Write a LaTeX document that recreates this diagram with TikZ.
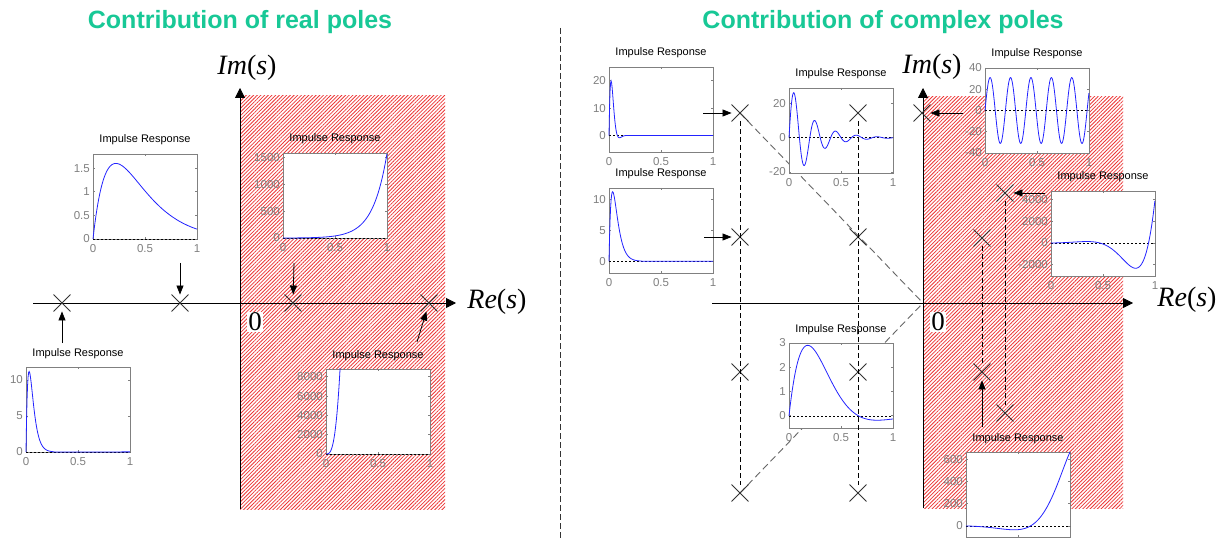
\documentclass[tikz,border=0pt]{standalone}
\usepackage{fontspec}
\setmainfont{Liberation Sans}
\newfontfamily\timesfont{Liberation Serif}
\usetikzlibrary{arrows.meta,shapes.misc,patterns.meta}

\definecolor{titlegreen}{RGB}{24,200,150}
\definecolor{hatchred}{RGB}{238,55,55}
\definecolor{respblue}{RGB}{35,35,255}

\newif\ifirxticks \irxtickstrue
% impulse response box: name, top-left corner, ymin, ymax, t max, h(t) in \x, y ticks
\newcommand{\irplot}[7]{%
  \begin{scope}[shift={#2}]
    \fill[white] (0,0) rectangle (104,85);
    \node[irtitle, anchor=base] (#1) at (52,-11) {Impulse Response};
    \draw[irframe] (0,0) rectangle (104,85);
    \foreach \tx [count=\i] in {0,0.5,1} {
      \draw[irframe] (104*\tx,0) -- ++(0,2) (104*\tx,85) -- ++(0,-2);
      \ifirxticks\node[irtick, anchor=north] (#1x\i) at (104*\tx,89) {\tx};\fi
    }
    \foreach \v [count=\i] in {#7} {
      \draw[irframe] (0,{85*(((#4)-(\v))/((#4)-(#3)))}) -- ++(2,0)
                     (104,{85*(((#4)-(\v))/((#4)-(#3)))}) -- ++(-2,0);
      \node[irtick, anchor=east] (#1y\i) at (-2,{85*(((#4)-(\v))/((#4)-(#3)))}) {\v};
    }
    \draw[irzero] (0,{85*((#4)/((#4)-(#3)))}) -- ++(104,0);
    \begin{scope}
      \clip (-1,-1) rectangle (105,86);
      \draw[irresp] plot[domain=0:#5, samples=200] ({104*\x},{85*(((#4)-(#6))/((#4)-(#3)))});
    \end{scope}
  \end{scope}}

\begin{document}
\begin{tikzpicture}[
  x=1pt, y=-1pt,
  pole/.style={draw=black!80, cross out, minimum size=16pt, inner sep=0pt, line width=0.9pt},
  arrow/.style={-{Triangle[length=9pt,width=7pt]}, line width=0.8pt},
  axis/.style={-{Triangle[length=10pt,width=10pt]}, line width=0.8pt},
  guide/.style={dash pattern=on 5pt off 3pt, line width=0.8pt},
  diag/.style={dash pattern=on 7pt off 4pt, line width=0.9pt, draw=black!60},
  unstable/.style={pattern={Lines[angle=45,distance=2.6pt,line width=0.8pt]}, pattern color=hatchred},
  paneltitle/.style={font=\fontsize{25}{28}\selectfont\bfseries, text=titlegreen},
  axlabel/.style={font=\fontsize{28}{30}\selectfont\timesfont},
  origin/.style={fill=white, inner sep=1pt, font=\fontsize{27}{29}\selectfont\timesfont},
  irtitle/.style={font=\fontsize{11}{13}\selectfont, inner sep=0pt},
  irtick/.style={font=\fontsize{11.5}{13}\selectfont, text=black!50, inner sep=1pt},
  irframe/.style={draw=black!50, line width=0.8pt},
  irzero/.style={dash pattern=on 2pt off 2pt, line width=0.6pt},
  irresp/.style={draw=respblue, line width=0.8pt}
]
  \useasboundingbox[fill=white] (0,0) rectangle (1219,540);

  % titles
  \node[paneltitle] (realtitle) at (240,22) {Contribution of real poles};
  \node[paneltitle] (cplxtitle) at (883,22) {Contribution of complex poles};
  \draw[dash pattern=on 6pt off 3pt, line width=0.8pt, black!80] (560,28) -- (560,540);

  % right half planes
  \fill[unstable] (240,96) rectangle (445,509);
  \fill[unstable] (923,97) rectangle (1123,508);

  % --- real poles ---
  \coordinate (lre0) at (33,303);
  \coordinate (lre1) at (456,303);
  \coordinate (lim0) at (240,509);
  \coordinate (lim1) at (240,88);
  \draw[axis] (lre0) -- (lre1);
  \draw[axis] (lim0) -- (lim1);
  \node[axlabel] (lrelabel) at (497,302) {\textit{Re}(\textit{s})};
  \node[axlabel] (limlabel) at (247,68) {\textit{Im}(\textit{s})};
  \node[origin] (lzero) at (255,322) {0};

  \node[pole] (lfast) at (62,303) {};
  \node[pole] (lslow) at (180,303) {};
  \node[pole] (lunslow) at (293,303) {};
  \node[pole] (lunfast) at (429,303) {};

  \irplot{lslowir}{(93,154)}{0}{1.8}{1}{19.77*\x*exp(-\x/0.22)}{0,0.5,1,1.5}
  \irplot{lunslowir}{(283,153)}{0}{1580}{1}{exp(7.36*\x)-1}{0,500,1000,1500}
  \irplot{lfastir}{(26,367)}{0}{11.8}{1}{1013*\x*exp(-\x/0.03)}{0,5,10}
  \irplot{lunfastir}{(326,369)}{0}{8800}{0.14}{8800*(\x/0.135)*(\x/0.135)*(\x/0.135)}{0,2000,4000,6000,8000}

  \coordinate (lslowin) at (180,263);
  \coordinate (lunslowin) at (294,263);
  \coordinate (lfastin) at (62,343);
  \coordinate (lunfastin) at (417,342);
  \draw[arrow] (lslowin) -- (lslow);
  \draw[arrow] (lunslowin) -- (lunslow);
  \draw[arrow] (lfastin) -- (lfast);
  \draw[arrow] (lunfastin) -- (lunfast);

  % --- complex poles ---
  \coordinate (rre0) at (712,303);
  \coordinate (rre1) at (1133,303);
  \coordinate (rim0) at (923,508);
  \coordinate (rim1) at (923,88);
  \coordinate (rorigin) at (923,303);
  \draw[axis] (rre0) -- (rre1);
  \draw[axis] (rim0) -- (rim1);
  \node[axlabel] (rrelabel) at (1187,300) {\textit{Re}(\textit{s})};
  \node[axlabel] (rimlabel) at (932,67) {\textit{Im}(\textit{s})};
  \node[origin] (rzero) at (938,322) {0};

  \coordinate (fastupc) at (740,113);
  \coordinate (fastdnc) at (740,493);
  \draw[diag] (fastupc) -- (rorigin);
  \draw[diag] (fastdnc) -- (rorigin);

  \irplot{fastupir}{(609,67)}{-6}{25}{1}{63*exp(-40*\x)*sin(deg(39*\x))}{0,10,20}
  \irplot{dampupir}{(609,188)}{-1.9}{11.9}{1}{877*\x*exp(-\x/0.035)}{0,5,10}
  \irplot{midupir}{(789,88)}{-20.6}{29}{1}{33*exp(-4.8*\x)*sin(deg(31.4*\x))}{-20,0,20}
  \irplot{middnir}{(789,343)}{-0.5}{3}{1}{8.2*exp(-4.16*\x)*sin(deg(4.7*\x))}{0,1,2,3}
  \irplot{imagir}{(985,68)}{-40}{40}{1}{31*sin(deg(32*\x))}{-40,-20,0,20,40}
  \irplot{growupir}{(1051,191)}{-3040}{4790}{1}{22*exp(6.1*\x)*sin(deg(6.7*\x))}{-2000,0,2000,4000}
  \irxticksfalse
  \irplot{creepir}{(966,452)}{-100}{670}{1}{-4.82*exp(5*\x)*sin(deg(5.07*\x))}{0,200,400,600}

  \node[pole] (fastup) at (fastupc) {};
  \node[pole] (fastdn) at (fastdnc) {};
  \node[pole] (dampup) at (740,237) {};
  \node[pole] (dampdn) at (740,372) {};
  \node[pole] (slowup) at (858,113) {};
  \node[pole] (midup) at (858,237) {};
  \node[pole] (middn) at (858,372) {};
  \node[pole] (slowdn) at (858,493) {};
  \node[pole] (imagup) at (922,113) {};
  \node[pole] (growup) at (1005,193) {};
  \node[pole] (growdn) at (1005,413) {};
  \node[pole] (creepup) at (982,238) {};
  \node[pole] (creepdn) at (982,372) {};

  \draw[guide] (fastup) -- (fastdn);
  \draw[guide] (slowup) -- (slowdn);
  \draw[guide] (creepup) -- (creepdn);
  \draw[guide] (growup) -- (growdn);

  \coordinate (fastupin) at (703,113);
  \coordinate (dampupin) at (704,237);
  \coordinate (imagupin) at (963,113);
  \coordinate (growupin) at (1045,193);
  \coordinate (creepdnin) at (982,427);
  \draw[arrow] (fastupin) -- (fastup);
  \draw[arrow] (dampupin) -- (dampup);
  \draw[arrow] (imagupin) -- (imagup);
  \draw[arrow] (growupin) -- (growup);
  \draw[arrow] (creepdnin) -- (creepdn);
\end{tikzpicture}
\end{document}
